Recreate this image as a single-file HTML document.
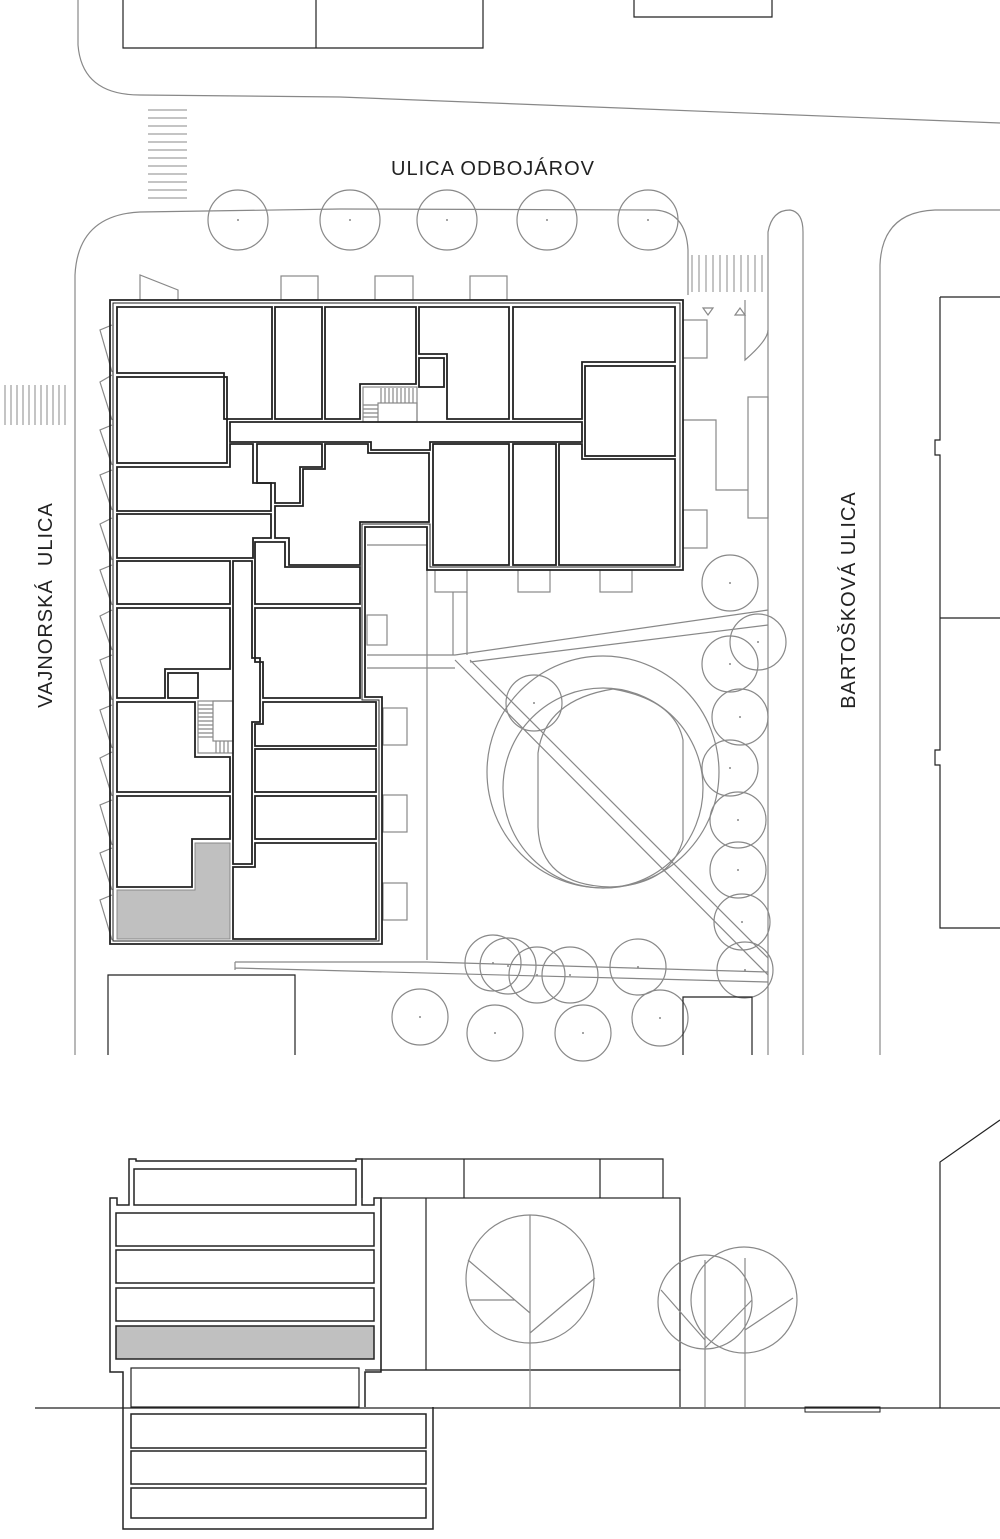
<!DOCTYPE html>
<html><head><meta charset="utf-8"><style>
html,body{margin:0;padding:0;background:#fff}
svg{display:block}
text{font-family:"Liberation Sans",sans-serif;font-size:20px;fill:#222;letter-spacing:1px}
</style></head><body>
<svg width="1000" height="1539" viewBox="0 0 1000 1539" xmlns="http://www.w3.org/2000/svg">
<g fill="none" stroke="#888" stroke-width="1.2">
<path d="M78,0 L78,45 Q82,95 140,95 L340,97 L1000,123"/>
<path d="M75,1055 L75,275 Q78,215 140,212 L340,209 L655,210 Q686,212 688,250 L688,295"/>
<path d="M768,1055 L768,232 Q772,210 790,210 Q803,212 803,232 L803,1055"/>
<path d="M745,300 L745,360 Q768,340 768,330"/>
<path d="M880,1055 L880,265 Q882,212 935,210 L1000,210"/>
<g stroke-width="1">
<path d="M148,110H187M148,118H187M148,126H187M148,134H187M148,142H187M148,150H187M148,158H187M148,166H187M148,174H187M148,182H187M148,190H187M148,198H187"/>
<path d="M5,385V425M11,385V425M17,385V425M23,385V425M29,385V425M35,385V425M41,385V425M47,385V425M53,385V425M59,385V425M65,385V425"/>
<path d="M692,255V292M699,255V292M706,255V292M713,255V292M720,255V292M727,255V292M734,255V292M741,255V292M748,255V292M755,255V292M762,255V292"/>
</g>
<path d="M703,308L713,308L708,315Z M735,315L745,315L740,308Z"/>
<path stroke="#222" d="M123,0V48H483V0M316,0V48M634,0V17H772V0"/>
<path stroke="#222" d="M940,297H1000M940,297V440H935V455H940V750H935V765H940V928H1000M940,618H1000"/>
<circle cx="238" cy="220" r="30"/><circle cx="350" cy="220" r="30"/><circle cx="447" cy="220" r="30"/><circle cx="547" cy="220" r="30"/><circle cx="648" cy="220" r="30"/>
<path d="M140,300L140,275L178,290L178,300"/>
<rect x="281" y="276" width="37" height="24"/><rect x="375" y="276" width="38" height="24"/><rect x="470" y="276" width="37" height="24"/>
<rect x="683" y="320" width="24" height="38"/><path d="M683,420H716V490H748"/><rect x="748" y="397" width="20" height="121"/><rect x="683" y="510" width="24" height="38"/>
<rect x="435" y="570" width="32" height="22"/><rect x="518" y="570" width="32" height="22"/><rect x="600" y="570" width="32" height="22"/>
<rect x="367" y="615" width="20" height="30"/>
<rect x="383" y="708" width="24" height="37"/><rect x="383" y="795" width="24" height="37"/><rect x="383" y="883" width="24" height="37"/>
<path d="M112,325L100,330L112,372M112,375L100,382L112,420M112,425L100,430L112,465M112,470L100,475L112,510M112,518L100,524L112,560M112,565L100,570L112,605M112,610L100,616L112,650M112,655L100,660L112,700M112,705L100,710L112,748M112,752L100,758L112,796M112,800L100,805L112,845M112,848L100,853L112,890M112,895L100,900L112,940"/>
<path d="M367,545H427V960M367,655H455L768,610M367,668H455M470,662L768,625M453,592V655M467,592V655M455,660L768,975M470,660L768,958M235,962H427L768,972M235,970V962M235,968L768,982"/>
<circle cx="603" cy="772" r="116"/><circle cx="603" cy="788" r="100"/>
<path d="M538,753 Q545,700 613,689 Q675,700 683,740 L683,840 Q670,885 610,887 Q540,885 538,827 Z"/>
<g>
<circle cx="730" cy="583" r="28"/><circle cx="758" cy="642" r="28"/><circle cx="730" cy="664" r="28"/><circle cx="740" cy="717" r="28"/><circle cx="730" cy="768" r="28"/><circle cx="738" cy="820" r="28"/><circle cx="738" cy="870" r="28"/><circle cx="742" cy="922" r="28"/><circle cx="745" cy="970" r="28"/>
<circle cx="534" cy="703" r="28"/>
<circle cx="493" cy="963" r="28"/><circle cx="508" cy="966" r="28"/><circle cx="537" cy="975" r="28"/><circle cx="570" cy="975" r="28"/><circle cx="638" cy="967" r="28"/>
<circle cx="660" cy="1018" r="28"/><circle cx="420" cy="1017" r="28"/><circle cx="495" cy="1033" r="28"/><circle cx="583" cy="1033" r="28"/>
</g>
<path stroke="#222" d="M108,1055V975H295V1055M683,1055V997H752V1055"/>
<rect x="363" y="387" width="54" height="35"/><rect x="378" y="403" width="39" height="19"/>
<path d="M381,388V403M385,388V403M389,388V403M393,388V403M397,388V403M401,388V403M405,388V403M409,388V403M413,388V403M363,405H378M363,409H378M363,413H378M363,417H378"/>
<rect x="198" y="701" width="35" height="52"/><rect x="213" y="701" width="20" height="40"/>
<path d="M198,705H213M198,709H213M198,713H213M198,717H213M198,721H213M198,725H213M198,729H213M198,733H213M198,737H213M216,741V753M220,741V753M224,741V753M228,741V753"/>
</g>
<g fill="#888" stroke="none">
<circle cx="238" cy="220" r="1"/><circle cx="350" cy="220" r="1"/><circle cx="447" cy="220" r="1"/><circle cx="547" cy="220" r="1"/><circle cx="648" cy="220" r="1"/>
<circle cx="730" cy="583" r="1"/><circle cx="758" cy="642" r="1"/><circle cx="730" cy="664" r="1"/><circle cx="740" cy="717" r="1"/><circle cx="730" cy="768" r="1"/><circle cx="738" cy="820" r="1"/><circle cx="738" cy="870" r="1"/><circle cx="742" cy="922" r="1"/><circle cx="745" cy="970" r="1"/><circle cx="534" cy="703" r="1"/><circle cx="493" cy="963" r="1"/><circle cx="508" cy="966" r="1"/><circle cx="537" cy="975" r="1"/><circle cx="570" cy="975" r="1"/><circle cx="638" cy="967" r="1"/><circle cx="660" cy="1018" r="1"/><circle cx="420" cy="1017" r="1"/><circle cx="495" cy="1033" r="1"/><circle cx="583" cy="1033" r="1"/>
</g>
<g fill="none" stroke="#222" stroke-width="1.8">
<polygon points="110,300 683,300 683,570 427,570 427,527 365,527 365,697 382,697 382,944 110,944"/>
<polygon points="113,303 680,303 680,567 430,567 430,524 362,524 362,700 379,700 379,941 113,941" stroke-width="1"/>
<polygon points="117,307 272,307 272,419 224,419 224,373 117,373"/>
<rect x="275" y="307" width="47" height="112"/>
<polygon points="325,307 416,307 416,384 360,384 360,419 325,419"/>
<polygon points="419,307 509,307 509,419 447,419 447,354 419,354"/>
<rect x="419" y="358" width="25" height="29"/>
<polygon points="513,307 675,307 675,362 582,362 582,419 513,419"/>
<rect x="585" y="366" width="90" height="90"/>
<rect x="117" y="377" width="110" height="86"/>
<polygon points="230,422 582,422 582,442 430,442 430,450 371,450 371,442 230,442"/>
<polygon points="117,467 230,467 230,444 253,444 253,483 271,483 271,511 117,511"/>
<polygon points="257,444 322,444 322,467 300,467 300,503 275,503 275,483 257,483"/>
<polygon points="325,444 368,444 368,453 429,453 429,522 360,522 360,565 289,565 289,538 275,538 275,506 303,506 303,469 325,469"/>
<rect x="433" y="444" width="76" height="121"/>
<rect x="513" y="444" width="43" height="121"/>
<polygon points="559,444 582,444 582,459 675,459 675,565 559,565"/>
<polygon points="117,514 271,514 271,538 253,538 253,558 117,558"/>
<rect x="117" y="561" width="113" height="43"/>
<polygon points="233,561 252,561 252,658 260,658 260,722 252,722 252,864 233,864"/>
<polygon points="117,608 230,608 230,669 165,669 165,698 117,698"/>
<rect x="168" y="673" width="30" height="25"/>
<polygon points="117,702 195,702 195,757 230,757 230,792 117,792"/>
<polygon points="117,796 230,796 230,839 192,839 192,887 117,887"/>
<polygon points="117,890 195,890 195,843 230,843 230,939 117,939" fill="#c0c0c0" stroke="#888" stroke-width="1"/>
<polygon points="255,542 285,542 285,567 360,567 360,604 255,604"/>
<polygon points="255,608 360,608 360,698 263,698 263,662 255,662"/>
<polygon points="263,702 376,702 376,746 255,746 255,724 263,724"/>
<rect x="255" y="749" width="121" height="43"/>
<rect x="255" y="796" width="121" height="43"/>
<polygon points="233,867 255,867 255,843 376,843 376,939 233,939"/>
</g>
<text x="493" y="175" text-anchor="middle">ULICA ODBOJÁROV</text>
<text transform="translate(855,600) rotate(-90)" text-anchor="middle">BARTOŠKOVÁ ULICA</text>
<text transform="translate(52,605) rotate(-90)" text-anchor="middle" xml:space="preserve">VAJNORSKÁ  ULICA</text>
<g fill="none" stroke="#222" stroke-width="1.5">
<path d="M35,1408H1000" stroke-width="1.2"/>
<rect x="805" y="1407" width="75" height="5" stroke-width="1"/>
<path d="M940,1408V1162L1000,1120" stroke-width="1.2"/>
<polyline points="365,1407 365,1372 381,1372 381,1198 374,1198 374,1205 362,1205 362,1159 356,1159 356,1161 136,1161 136,1159 129,1159 129,1205 117,1205 117,1198 110,1198 110,1372 123,1372 123,1529 433,1529 433,1407"/>
<rect x="134" y="1169" width="222" height="36"/>
<rect x="116" y="1213" width="258" height="33"/>
<rect x="116" y="1250" width="258" height="33"/>
<rect x="116" y="1288" width="258" height="33"/>
<rect x="116" y="1326" width="258" height="33" fill="#c0c0c0"/>
<rect x="131" y="1368" width="228" height="39" stroke-width="1.2"/>
<rect x="131" y="1414" width="295" height="34"/>
<rect x="131" y="1451" width="295" height="33"/>
<rect x="131" y="1488" width="295" height="30"/>
<path d="M362,1198V1159H663V1198M464,1159V1198M600,1159V1198" stroke-width="1.2"/>
<rect x="381" y="1198" width="299" height="172" stroke-width="1.2"/>
<path d="M426,1198V1370M365,1370H680V1407" stroke-width="1.2"/>
</g>
<g fill="none" stroke="#888" stroke-width="1.2">
<ellipse cx="530" cy="1279" rx="64" ry="64"/>
<path d="M530,1215V1407M468,1260L530,1313M469,1300H515M530,1333L595,1278"/>
<circle cx="705" cy="1302" r="47"/><circle cx="744" cy="1300" r="53"/>
<path d="M705,1260V1407M745,1258V1407M661,1290L705,1340M705,1348L752,1300M745,1330L793,1298"/>
</g>
</svg>
</body></html>
